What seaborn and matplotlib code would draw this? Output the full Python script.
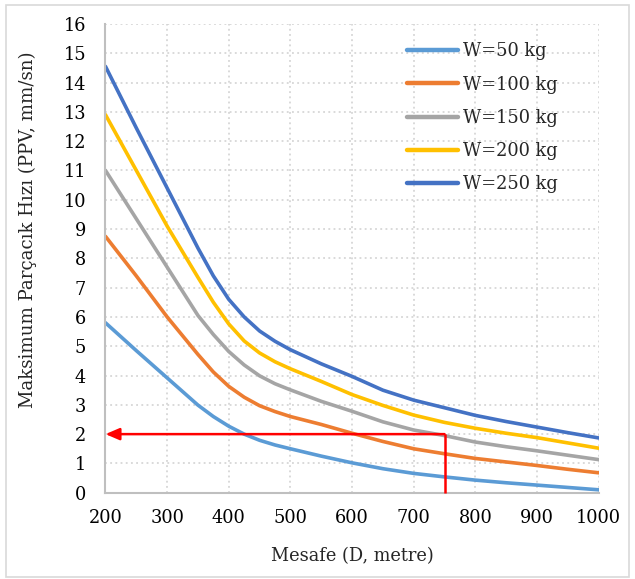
import matplotlib
matplotlib.use("Agg")
import matplotlib.pyplot as plt
import seaborn as sns
import pandas as pd
from matplotlib.patches import Rectangle
from matplotlib.lines import Line2D

# ---- data ----
distance = [200, 250, 300, 350, 375, 400, 425, 450, 475, 500, 550, 600, 650, 700, 750, 800, 850, 900, 950, 1000]
ppv_w50 = [5.8, 4.85, 3.92, 2.99, 2.6, 2.27, 2.0, 1.79, 1.63, 1.5, 1.25, 1.02, 0.82, 0.66, 0.54, 0.43, 0.34, 0.26, 0.18, 0.1]
ppv_w100 = [8.75, 7.4, 6.0, 4.72, 4.12, 3.63, 3.26, 2.97, 2.77, 2.6, 2.33, 2.03, 1.75, 1.5, 1.33, 1.17, 1.05, 0.93, 0.8, 0.68]
ppv_w150 = [11.0, 9.35, 7.7, 6.05, 5.4, 4.82, 4.36, 3.99, 3.72, 3.51, 3.12, 2.78, 2.42, 2.14, 1.95, 1.73, 1.57, 1.43, 1.28, 1.13]
ppv_w200 = [12.9, 11.0, 9.1, 7.35, 6.5, 5.76, 5.18, 4.77, 4.47, 4.23, 3.8, 3.35, 2.98, 2.65, 2.4, 2.2, 2.03, 1.88, 1.7, 1.52]
ppv_w250 = [14.55, 12.45, 10.4, 8.35, 7.4, 6.6, 6.0, 5.52, 5.17, 4.88, 4.4, 3.97, 3.5, 3.16, 2.9, 2.64, 2.43, 2.24, 2.05, 1.87]
series_labels = ["W=50 kg", "W=100 kg", "W=150 kg", "W=200 kg", "W=250 kg"]
colors = ["#5B9BD5", "#ED7D31", "#A5A5A5", "#FFC000", "#4472C4"]
x_ticks = [200, 300, 400, 500, 600, 700, 800, 900, 1000]
y_ticks = list(range(0, 17))
marker_distance = 750
marker_ppv = 2

rows = []
for lab, vals in zip(series_labels, [ppv_w50, ppv_w100, ppv_w150, ppv_w200, ppv_w250]):
    for d, v in zip(distance, vals):
        rows.append({"D": d, "PPV": v, "W": lab})
df = pd.DataFrame(rows)

sns.set_theme(style="white")
plt.rcParams["font.family"] = ["DejaVu Serif"]

fig = plt.figure(figsize=(6.35, 5.79), dpi=100)
ax = fig.add_axes([0.1661, 0.149, 0.7766, 0.8097])

sns.lineplot(data=df, x="D", y="PPV", hue="W", hue_order=series_labels,
             palette=colors, linewidth=2.6, ax=ax, legend=False)
for ln in ax.get_lines():
    ln.set_solid_joinstyle("round")

ax.set_xlim(200, 1000)
ax.set_ylim(0, 16)
ax.set_xticks(x_ticks)
ax.set_yticks(y_ticks)
ax.tick_params(axis="both", length=0, labelsize=12.8, colors="black")
ax.tick_params(axis="y", pad=14)
ax.tick_params(axis="x", pad=12)
ax.grid(True, color="#d0d0d0", linestyle=(0, (1.2, 2.2)), linewidth=1.1)
for s in ["top", "right"]:
    ax.spines[s].set_visible(False)
for s in ["left", "bottom"]:
    ax.spines[s].set_color("#bfbfbf")
    ax.spines[s].set_linewidth(1.5)

ax.set_xlabel("Mesafe (D, metre)", fontsize=12.8, labelpad=14)
ax.set_ylabel("Maksimum Parçacık Hızı (PPV, mm/sn)", fontsize=13.1)
ax.yaxis.set_label_coords(-0.138, 0.56)

# red annotation
ax.plot([marker_distance, marker_distance], [0, marker_ppv], color="red", linewidth=1.8,
        solid_capstyle="butt", clip_on=False, zorder=5)
ax.annotate("", xy=(200, marker_ppv), xytext=(marker_distance, marker_ppv),
            arrowprops=dict(arrowstyle="-|>,head_length=0.7,head_width=0.3",
                            color="red", lw=1.8, shrinkA=0, shrinkB=0),
            annotation_clip=False, zorder=5)

# legend
handles = [Line2D([0], [0], color=c, lw=3.2, solid_capstyle="round") for c in colors]
leg = ax.legend(handles, series_labels, loc="upper left", bbox_to_anchor=(0.578, 0.995),
                frameon=False, fontsize=12.8, handlelength=2.9, handletextpad=0.3,
                labelspacing=0.86)

# chart border
fig.patches.append(Rectangle((6 / 635, 2 / 579), 623 / 635, 572 / 579, transform=fig.transFigure,
                             fill=False, edgecolor="#d9d9d9", linewidth=1.2))

fig.savefig("out.png", dpi=100)
